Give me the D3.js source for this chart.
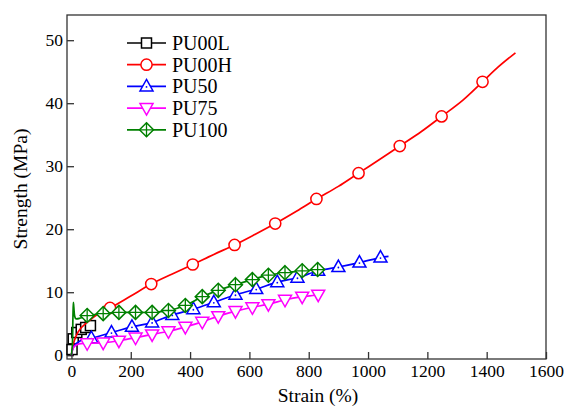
<!DOCTYPE html>
<html>
<head>
<meta charset="utf-8">
<script src="https://cdn.jsdelivr.net/npm/d3@7"></script>
<style>
  body { margin: 0; background: #fff; }
</style>
</head>
<body>
<svg id="chart" width="566" height="409"></svg>
<script>
// tick values
var xTicks = [0, 200, 400, 600, 800, 1000, 1200, 1400, 1600];
var yTicks = [0, 10, 20, 30, 40, 50];

// series names, in legend order
var names = ["PU00L", "PU00H", "PU50", "PU75", "PU100"];

// PU00L : [strain %, strength MPa]
var pu00lLine  = [[0, 0], [70, 4.9]];
var pu00lMarks = [[2, 0.9], [6, 2.6], [18, 3.6], [33, 4.1], [48, 4.4], [64, 4.7]];

// PU00H
var pu00hLine  = [[0, 0], [5, 1.5], [15, 3], [30, 4.2], [60, 5.5], [95, 6.7],
  [200, 9.4], [340, 12.9], [480, 16], [620, 19.2], [760, 22.9], [900, 26.8],
  [1040, 31.1], [1180, 35.5], [1320, 40.5], [1440, 45.8], [1497, 48]];
var pu00hMarks = [[130, 7.5], [269, 11.3], [409, 14.4], [550, 17.5], [687, 20.9],
  [826, 24.8], [968, 28.9], [1107, 33.2], [1248, 37.9], [1386, 43.4]];

// PU50
var pu50Line  = [[0, 0], [8, 1.4], [30, 2.3], [1069, 15.7]];
var pu50Marks = [[67, 2.7], [135, 3.6], [204, 4.5], [272, 5.2], [340, 6.4],
  [411, 7.3], [480, 8.4], [553, 9.6], [623, 10.5], [694, 11.6], [762, 12.3],
  [832, 13.4], [900, 14.0], [971, 14.7], [1042, 15.5]];

// PU75
var pu75Line  = [[0, 0], [8, 1.3], [25, 1.8], [840, 9.8]];
var pu75Marks = [[53, 1.9], [107, 2.0], [160, 2.3], [216, 2.8], [272, 3.3],
  [327, 3.8], [384, 4.5], [441, 5.3], [495, 6.2], [553, 7.0], [610, 7.6],
  [664, 8.1], [720, 8.8], [778, 9.3], [832, 9.6]];

// PU100
var pu100Line  = [[0, 0], [3, 1.5], [5, 6], [6.5, 8.4], [8, 7.6], [11, 6.2],
  [15, 5.8], [30, 5.9], [840, 13.7]];
var pu100Marks = [[53, 6.3], [107, 6.6], [160, 6.8], [216, 6.8], [272, 6.8],
  [327, 7.1], [384, 7.9], [441, 9.3], [495, 10.3], [553, 11.2], [610, 12.0],
  [664, 12.7], [720, 13.1], [778, 13.4], [830, 13.6]];

var colors = ["#000000", "#ff0000", "#0000ff", "#ff00ff", "#008000"];
var shapes = ["square", "circle", "up", "down", "diamond"];
var serif = "Liberation Serif, Times New Roman, DejaVu Serif, serif";

var series = [
  {line: pu00lLine, marks: pu00lMarks},
  {line: pu00hLine, marks: pu00hMarks},
  {line: pu50Line, marks: pu50Marks},
  {line: pu75Line, marks: pu75Marks},
  {line: pu100Line, marks: pu100Marks}
];

var margin = {top: 15, right: 20, bottom: 50, left: 67};
var width = 566 - margin.left - margin.right;
var height = 409 - margin.top - margin.bottom;

var svg = d3.select("#chart");
var g = svg.append("g")
  .attr("transform", "translate(" + margin.left + "," + margin.top + ")");

var x = d3.scaleLinear().domain([-15, 1600]).range([0, width]);
var y = d3.scaleLinear().domain([-0.6, 54]).range([height, 0]);

// frame
g.append("rect")
  .attr("width", width).attr("height", height)
  .attr("fill", "none").attr("stroke", "#333").attr("stroke-width", 1.3);

// axes, ticks pointing in
var xAxis = g.append("g")
  .attr("transform", "translate(0," + height + ")")
  .call(d3.axisBottom(x).tickValues(xTicks).tickFormat(d3.format("d"))
    .tickSizeInner(-7).tickSizeOuter(0).tickPadding(6));
var yAxis = g.append("g")
  .call(d3.axisLeft(y).tickValues(yTicks).tickFormat(d3.format("d"))
    .tickSizeInner(-7).tickSizeOuter(0).tickPadding(4));

[xAxis, yAxis].forEach(function(a) {
  a.attr("font-family", serif).attr("font-size", 17.5);
  a.select(".domain").remove();
  a.selectAll("line").attr("stroke", "#333").attr("stroke-width", 1.3);
  a.selectAll("text").attr("fill", "#000");
});

// axis titles
svg.append("text")
  .attr("x", 318).attr("y", 402)
  .attr("text-anchor", "middle")
  .attr("font-family", serif).attr("font-size", 19.5)
  .text("Strain (%)");
svg.append("text")
  .attr("transform", "translate(27,189) rotate(-90)")
  .attr("text-anchor", "middle")
  .attr("font-family", serif).attr("font-size", 19.5)
  .text("Strength (MPa)");

// markers
function drawMarker(sel, shape, color) {
  if (shape === "square") {
    sel.append("rect").attr("x", -5).attr("y", -5).attr("width", 10).attr("height", 10)
      .attr("fill", "#fff").attr("stroke", color).attr("stroke-width", 1.5);
  } else if (shape === "circle") {
    sel.append("circle").attr("r", 5.6)
      .attr("fill", "#fff").attr("stroke", color).attr("stroke-width", 1.5);
  } else if (shape === "up") {
    sel.append("path").attr("d", "M0,-7L6.5,4.5L-6.5,4.5Z")
      .attr("fill", "#fff").attr("stroke", color).attr("stroke-width", 1.5);
    sel.append("circle").attr("r", 0.9).attr("cy", 0.5).attr("fill", color);
  } else if (shape === "down") {
    sel.append("path").attr("d", "M0,7L6.5,-4.5L-6.5,-4.5Z")
      .attr("fill", "#fff").attr("stroke", color).attr("stroke-width", 1.5);
  } else {
    sel.append("path").attr("d", "M0,-7L7,0L0,7L-7,0Z")
      .attr("fill", "#fff").attr("stroke", color).attr("stroke-width", 1.5);
    sel.append("path").attr("d", "M0,-7V7M-7,0H7")
      .attr("fill", "none").attr("stroke", color).attr("stroke-width", 1.3);
  }
}

var line = d3.line()
  .x(function(d) { return x(d[0]); })
  .y(function(d) { return y(d[1]); })
  .curve(d3.curveCatmullRom.alpha(0.5));

series.forEach(function(s, i) {
  var pts = s.line.concat(s.marks).sort(function(a, b) { return a[0] - b[0]; });
  g.append("path")
    .datum(pts)
    .attr("d", line)
    .attr("fill", "none")
    .attr("stroke", colors[i])
    .attr("stroke-width", 1.7);
  s.marks.forEach(function(d) {
    var m = g.append("g").attr("transform", "translate(" + x(d[0]) + "," + y(d[1]) + ")");
    drawMarker(m, shapes[i], colors[i]);
  });
});

// legend
var legend = svg.append("g").attr("transform", "translate(127,43)");
names.forEach(function(n, i) {
  var row = legend.append("g").attr("transform", "translate(0," + (i * 21.7) + ")");
  row.append("line").attr("x1", 0).attr("x2", 39)
    .attr("stroke", colors[i]).attr("stroke-width", 1.7);
  drawMarker(row.append("g").attr("transform", "translate(19.5,0)"), shapes[i], colors[i]);
  row.append("text")
    .attr("x", 45).attr("y", 0).attr("dy", "0.35em")
    .attr("font-family", serif).attr("font-size", 20)
    .text(n);
});
</script>
</body>
</html>
